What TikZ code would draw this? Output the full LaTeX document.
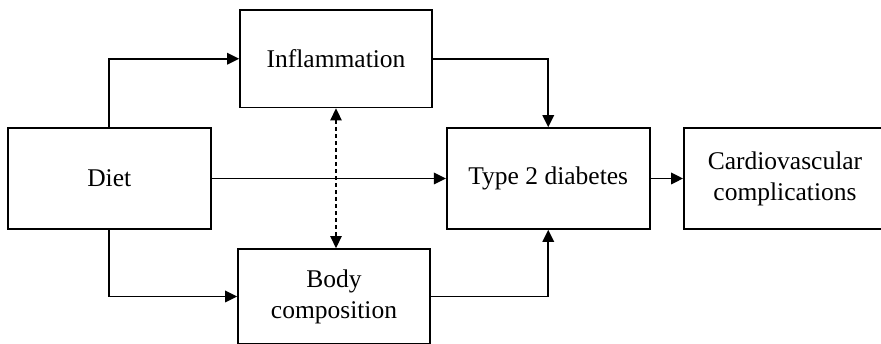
\documentclass[tikz,border=0pt]{standalone}
\usepackage{fontspec}
\setmainfont{Liberation Serif}
\usetikzlibrary{positioning}
\usetikzlibrary{arrows.meta}

\begin{document}
\begin{tikzpicture}[x=1pt,y=-1pt,on grid,line width=1.8pt,>={Triangle[length=12pt,width=11.5pt]},
    box/.style={draw,rectangle,minimum width=203pt,minimum height=101pt,inner sep=0pt,align=center,font=\fontsize{25.5}{31}\selectfont}]
   \useasboundingbox (0,0) rectangle (881,344);
   \clip (0,0) rectangle (881,344);
   \node[box] (diet) at (109.25,178.5) {Diet};
   \node[box,minimum width=192pt,minimum height=97.5pt] (infl) [above right=119.75pt and 226.75pt of diet] {Inflammation};
   \node[box,minimum width=192pt,minimum height=95pt] (body) [below right=118pt and 224.75pt of diet] {Body\\composition};
   \node[box] (t2d) [right=439pt of diet] {Type 2 diabetes};
   \node[box,minimum width=202pt] (cvd) [right=236.7pt of t2d] {Cardiovascular\\complications};
    \draw[->] (diet.north) |- (infl.west);
    \draw[->] (diet.south) |- (body.west);
    \draw[->] (diet) -- (t2d);
    \draw[->] (infl.east) -| (t2d.north);
    \draw[->] (body.east) -| (t2d.south);
    \draw[->] (t2d) -- (cvd);
    \draw[<->,line width=1.3pt,dash pattern=on 4pt off 3pt] (infl.south) -- (infl.south |- body.north);
\end{tikzpicture}
\end{document}
